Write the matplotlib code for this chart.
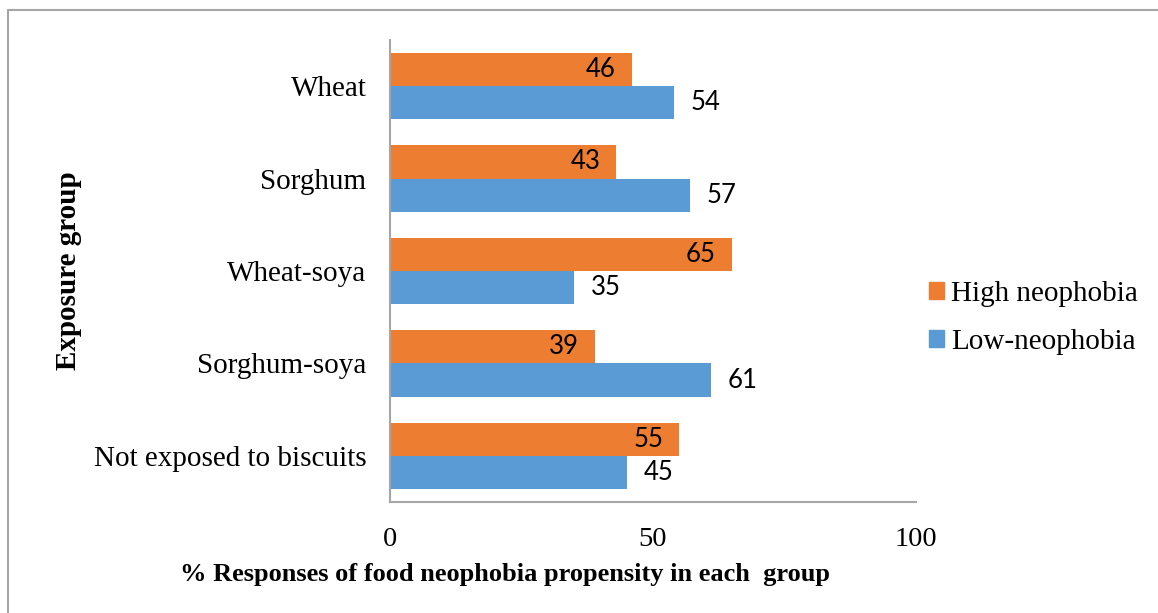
import matplotlib.pyplot as plt
import numpy as np
from matplotlib.patches import Patch, Rectangle

# survey data, categories listed top to bottom
groups = ["Wheat", "Sorghum", "Wheat-soya", "Sorghum-soya", "Not exposed to biscuits"]
high_neophobia = [46, 43, 65, 39, 55]
low_neophobia = [54, 57, 35, 61, 45]

orange = "#ED7D31"
blue = "#5B9BD5"
axis_grey = "#A6A6A6"
serif = "Liberation Serif"
label_font = "Lato"

fig = plt.figure(figsize=(11.58, 6.13), dpi=100)
ax = fig.add_axes([390 / 1158, 1 - 502 / 613, 526 / 1158, 462 / 613])

# outer chart frame
fig.patches.append(Rectangle((8 / 1158, -0.1), 1.2, 1 - 10 / 613 + 0.1,
                             transform=fig.transFigure, fill=False,
                             edgecolor=axis_grey, linewidth=1.5))

ypos = np.arange(len(groups))
h = 0.36
ax.barh(ypos - h / 2, high_neophobia, height=h, color=orange, label="High neophobia")
ax.barh(ypos + h / 2, low_neophobia, height=h, color=blue, label="Low-neophobia")

for y, v in zip(ypos, high_neophobia):
    ax.annotate(str(v), (v, y - h / 2), xytext=(-11.5, 0), textcoords="offset points",
                ha="right", va="center", fontsize=18.5, family=label_font)
for y, v in zip(ypos, low_neophobia):
    ax.annotate(str(v), (v, y + h / 2), xytext=(12, 0), textcoords="offset points",
                ha="left", va="center", fontsize=18.5, family=label_font)

ax.set_xlim(0, 100)
ax.set_ylim(len(groups) - 0.5, -0.5)
ax.set_xticks([0, 50, 100])
ax.set_yticks(ypos)
ax.set_yticklabels(groups, family=serif, fontsize=21)
ax.tick_params(axis="x", length=0, pad=18, labelsize=20.5)
ax.tick_params(axis="y", length=0, pad=17)
for lbl in ax.get_xticklabels():
    lbl.set_family(serif)

for side in ["top", "right"]:
    ax.spines[side].set_visible(False)
for side in ["left", "bottom"]:
    ax.spines[side].set_color(axis_grey)
    ax.spines[side].set_linewidth(1.5)

fig.text(505 / 1158, 1 - 575 / 613, "% Responses of food neophobia propensity in each  group",
         ha="center", va="center", family=serif, fontweight="bold", fontsize=19)
fig.text(68 / 1158, 1 - 271 / 613, "Exposure group", rotation=90,
         ha="center", va="center", family=serif, fontweight="bold", fontsize=21)

handles = [Patch(color=orange), Patch(color=blue)]
fig.legend(handles, ["High neophobia", "Low-neophobia"], loc="upper left",
           bbox_to_anchor=(929 / 1158, 1 - 281 / 613), frameon=False,
           prop={"family": serif, "size": 21}, handlelength=0.52, handleheight=0.52,
           handletextpad=0.25, labelspacing=0.75, borderpad=0, borderaxespad=0)

fig.savefig("out.png", dpi=100)
